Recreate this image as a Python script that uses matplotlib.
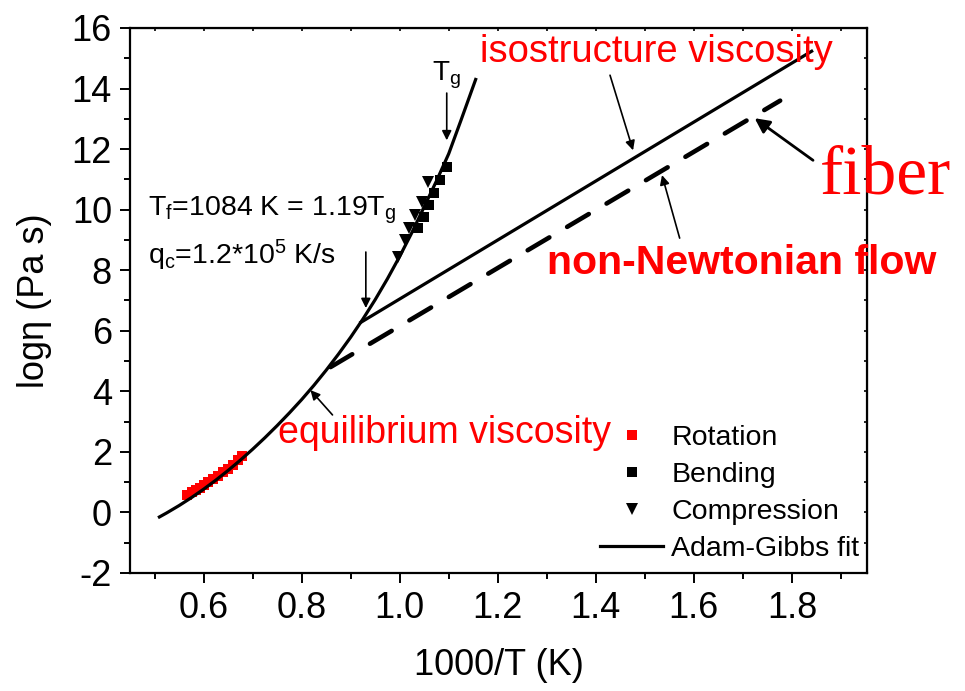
import matplotlib
matplotlib.use("Agg")
import matplotlib.pyplot as plt
from matplotlib.ticker import MultipleLocator

plt.rcParams['font.family'] = ['Liberation Sans', 'DejaVu Sans']
plt.rcParams['mathtext.fontset'] = 'custom'
plt.rcParams['mathtext.rm'] = 'Liberation Sans'
plt.rcParams['mathtext.it'] = 'Liberation Sans:italic'
plt.rcParams['axes.unicode_minus'] = False

# Adam-Gibbs fit (equilibrium viscosity)
fit_x = [0.51, 0.525, 0.55, 0.575, 0.60, 0.625, 0.65, 0.675, 0.70, 0.725, 0.75,
         0.775, 0.80, 0.825, 0.85, 0.875, 0.90, 0.925, 0.95, 0.975, 1.00,
         1.025, 1.05, 1.075, 1.10, 1.125, 1.155]
fit_y = [-0.15, -0.015, 0.225, 0.485, 0.765, 1.065, 1.385, 1.725, 2.085, 2.465, 2.865,
         3.285, 3.725, 4.195, 4.695, 5.225, 5.785, 6.385, 7.025, 7.715, 8.455,
         9.245, 10.095, 10.945, 11.845, 12.95, 14.3]

# measurements
rot_x = [0.567, 0.576, 0.585, 0.593, 0.601, 0.610, 0.620, 0.630, 0.640, 0.650, 0.660, 0.670, 0.678]
rot_y = [0.58, 0.66, 0.74, 0.82, 0.90, 0.99, 1.09, 1.20, 1.32, 1.44, 1.57, 1.72, 1.86]
bend_x = [1.037, 1.049, 1.059, 1.071, 1.082, 1.096]
bend_y = [9.39, 9.75, 10.15, 10.54, 10.97, 11.40]
comp_x = [0.996, 1.010, 1.020, 1.031, 1.045, 1.057]
comp_y = [8.43, 8.99, 9.39, 9.82, 10.25, 10.91]

# isostructure viscosity line and fiber (non-Newtonian) line
iso_x = [0.918, 1.843]
iso_y = [6.25, 15.26]
fib_x = [0.859, 1.776]
fib_y = [4.80, 13.6]

fig = plt.figure(figsize=(9.65, 6.91), dpi=100)
ax = fig.add_axes([0.1347, 0.1708, 0.7637, 0.7887])

ax.plot(fit_x, fit_y, color='black', lw=2.3, label='Adam-Gibbs fit', zorder=3)
ax.plot(iso_x, iso_y, color='black', lw=2.3, solid_capstyle='butt')
ax.plot(fib_x, fib_y, color='black', lw=3.3, dashes=(5.5, 4.5), dash_capstyle='round')

ax.plot(rot_x, rot_y, 's', color='red', ms=7, mew=0, label='Rotation', zorder=2)
ax.plot(bend_x, bend_y, 's', color='black', ms=7, mew=0, label='Bending', zorder=2)
ax.plot(comp_x, comp_y, 'v', color='black', ms=8, mew=0, label='Compression', zorder=2)

ax.set_xlim(0.45, 1.953)
ax.set_ylim(-2, 16)
ax.xaxis.set_minor_locator(MultipleLocator(0.1))
ax.yaxis.set_major_locator(MultipleLocator(2))
ax.yaxis.set_minor_locator(MultipleLocator(1))
ax.set_xticks([0.6, 0.8, 1.0, 1.2, 1.4, 1.6, 1.8])
ax.set_xticklabels(['0.6', '0.8', '1.0', '1.2', '1.4', '1.6', '1.8'])
ax.tick_params(which='both', direction='out', labelsize=26, width=1.4,
               top=False, right=False, pad=6)
ax.tick_params(which='major', length=7)
ax.tick_params(which='minor', length=4.5)
for s in ax.spines.values():
    s.set_linewidth(1.6)

# tiny inward ticks on top/right
sec_x = ax.secondary_xaxis('top')
sec_x.xaxis.set_major_locator(MultipleLocator(0.1))
sec_x.tick_params(direction='in', length=2, width=1.2, labeltop=False)
sec_y = ax.secondary_yaxis('right')
sec_y.yaxis.set_major_locator(MultipleLocator(1))
sec_y.tick_params(direction='in', length=2, width=1.2, labelright=False)

ax.set_xlabel('1000/T (K)', fontsize=26, labelpad=16)
ax.set_ylabel('log\u03b7 (Pa s)', fontsize=26, labelpad=14)

# annotations
ax.text(1.163, 15.2, 'isostructure viscosity', color='red', fontsize=27.5, va='center')
ax.text(1.300, 8.23, 'non-Newtonian flow', color='red', fontsize=29.5,
        fontweight='bold', va='center')
ax.text(0.751, 2.62, 'equilibrium viscosity', color='red', fontsize=27, va='center')
ax.text(1.857, 11.1, 'fiber', color='red', fontsize=50, va='center',
        family='Liberation Serif', clip_on=False)
ax.text(0.486, 9.98, 'T$_\\mathrm{f}$=1084 K = 1.19T$_\\mathrm{g}$', fontsize=20.5, va='center')
ax.text(0.486, 8.5, 'q$_\\mathrm{c}$=1.2*10$^\\mathrm{5}$ K/s', fontsize=20.5, va='center')
ax.text(1.096, 14.45, 'T$_\\mathrm{g}$', fontsize=20, ha='center', va='center')

thin = dict(arrowstyle='-|>', color='black', lw=1.2, mutation_scale=14, shrinkA=0, shrinkB=0)
ax.annotate('', xy=(1.096, 12.29), xytext=(1.096, 13.85), arrowprops=thin)
ax.annotate('', xy=(1.476, 11.96), xytext=(1.429, 14.44), arrowprops=thin)
ax.annotate('', xy=(1.535, 11.14), xytext=(1.571, 9.06), arrowprops=thin)
ax.annotate('', xy=(0.931, 6.75), xytext=(0.931, 8.6), arrowprops=thin)
ax.annotate('', xy=(0.818, 4.04), xytext=(0.863, 3.22), arrowprops=thin)
ax.annotate('', xy=(1.724, 13.02), xytext=(1.843, 11.63),
            arrowprops=dict(arrowstyle='-|>', color='black', lw=2.0,
                            mutation_scale=22, shrinkA=0, shrinkB=0))

handles, labels = ax.get_legend_handles_labels()
order = [1, 2, 3, 0]
ax.legend([handles[i] for i in order], [labels[i] for i in order],
          loc='lower right', frameon=False, fontsize=20.5, handlelength=2.2,
          labelspacing=0.38, handletextpad=0.3, borderaxespad=0.3,
          bbox_to_anchor=(1.017, -0.016))

fig.savefig('out.png', dpi=100)
